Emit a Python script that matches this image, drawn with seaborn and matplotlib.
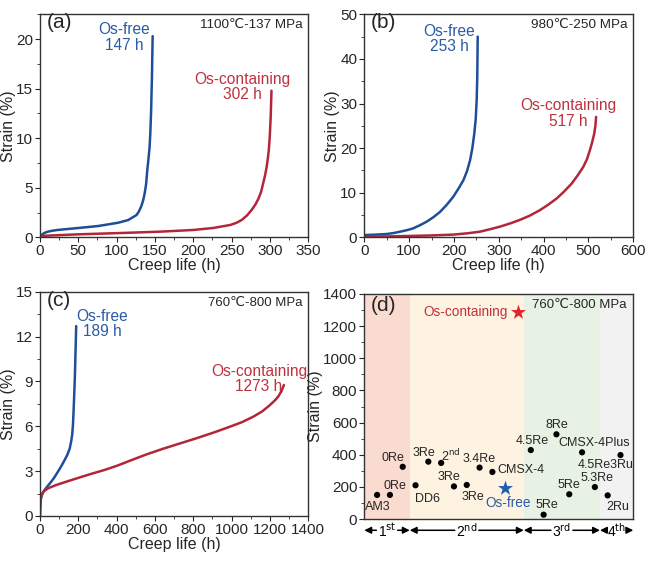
#%% import tools and libraries
import pandas as pd
import seaborn as sb
import matplotlib
matplotlib.use('Agg')
import matplotlib.pyplot as plt
from matplotlib.ticker import MultipleLocator

#%% colours
blue = '#1f4e99'
red = '#b3263a'
blue_txt = '#2b5ba6'
red_txt = '#c0313f'

#%% creep curves (time in h, strain in %)
# (a) 1100C-137 MPa
a_free_t = [0, 1.5, 3, 6, 10, 15, 23, 50, 76, 102, 115, 126, 129, 132, 134.5, 136.5, 138.5, 140,
            141.5, 143, 144, 145, 146, 147]
a_free_s = [0, 0.15, 0.3, 0.45, 0.56, 0.65, 0.74, 0.94, 1.14, 1.47, 1.74, 2.25, 2.6, 3.1, 3.7, 4.4,
            5.4, 6.8, 7.9, 9.1, 10.6, 12.8, 16, 20.3]
a_os_t = [0, 5, 50, 100, 157, 200, 226, 248, 256, 263, 270, 276, 281, 285, 288.5, 291, 293.5,
          295.7, 297.3, 298.5, 299.8, 301, 302]
a_os_s = [0, 0.15, 0.3, 0.42, 0.57, 0.74, 0.94, 1.24, 1.45, 1.74, 2.2, 2.75, 3.3, 3.9, 4.6, 5.4,
          6.2, 7.1, 8.0, 8.8, 10.2, 12.2, 14.8]

# (b) 980C-250 MPa
b_free_t = [0, 25, 50, 65, 80, 95, 109, 124, 139, 154, 169, 184, 198.5, 210, 221, 229, 236, 241,
            245.4, 248.5, 250.7, 252, 253]
b_free_s = [0.5, 0.6, 0.74, 0.95, 1.26, 1.6, 2.0, 2.7, 3.5, 4.5, 5.7, 7.3, 9.1, 10.9, 12.8, 14.8,
            17.3, 20, 23.3, 26.5, 30.8, 36, 45]
b_os_t = [0, 50, 100, 150, 198, 230, 258, 280, 303, 325, 347, 370, 392, 410, 429, 446, 463, 476,
          488.5, 497, 503.4, 508.5, 513, 515.5, 517]
b_os_s = [0.15, 0.2, 0.3, 0.42, 0.6, 0.9, 1.26, 1.8, 2.4, 3.1, 3.9, 4.9, 6.1, 7.3, 8.7, 10.3, 12.1,
          13.9, 15.8, 17.6, 19.6, 21.4, 23.3, 25, 27]

# (c) 760C-800 MPa
c_free_t = [0, 1, 2, 4, 7, 15, 24, 40, 59, 76, 94, 112, 129, 143, 155, 163, 168.7, 172.5, 175.6,
            179, 182, 184.5, 186.8, 189]
c_free_s = [0, 0.5, 0.8, 1.1, 1.3, 1.55, 1.74, 2.0, 2.3, 2.6, 2.97, 3.35, 3.75, 4.1, 4.5, 5.0, 5.5,
            6.2, 7.1, 8.2, 9.3, 10.5, 11.6, 12.7]
c_os_t = [0, 1, 2, 4, 7, 12, 20, 42, 80, 120, 163, 250, 337, 400, 470, 556, 643, 730, 817, 904,
          991, 1055, 1113, 1160, 1200, 1225, 1243, 1260, 1273]
c_os_s = [0, 0.5, 0.8, 1.1, 1.3, 1.5, 1.65, 1.85, 2.05, 2.22, 2.4, 2.75, 3.08, 3.35, 3.7, 4.12,
          4.5, 4.85, 5.2, 5.57, 5.97, 6.28, 6.64, 7.0, 7.42, 7.72, 7.98, 8.35, 8.76]

#%% (d) rupture life of SX superalloys at 760C-800 MPa
alloys = ['AM3', '0Re', '0Re', 'DD6', '3Re', '2$^{\\mathrm{nd}}$', '3Re', '3Re', '3.4Re', 'CMSX-4',
          '4.5Re', '5Re', '8Re', '5Re', 'CMSX-4Plus', '5.3Re', '2Ru', '4.5Re3Ru']
alloy_pos = [1, 2, 3, 4, 5, 6, 7, 8, 9, 10, 13, 14, 15, 16, 17, 18, 19, 20]
alloy_life = [150, 150, 325, 210, 357, 349, 203, 212, 320, 293, 429, 27, 527, 154, 415, 199, 147, 398]
# label offsets in points
lab_off = [(0.7, -8.4), (3.4, 6.7), (-6.7, 6), (8.4, -10), (-3.4, 6), (7.2, 4.7), (-3.4, 7), (4.6, -8.4),
           (0, 6.2), (3.6, 1.4), (1.2, 6.2), (2.6, 6.7), (0, 6.5), (0, 6.5), (8.6, 6.5), (1.4, 6.5),
           (7.2, -8.1), (-11, -7.2)]
os_free_pos, os_free_life = 11, 191
os_cont_pos, os_cont_life = 12, 1286

gen_edges = [0, 3.55, 12.45, 18.4, 21]
gen_labels = ['1$^{\\mathrm{st}}$', '2$^{\\mathrm{nd}}$', '3$^{\\mathrm{rd}}$', '4$^{\\mathrm{th}}$']
gen_colors = ['#fadbcf', '#fef3e1', '#e7f2e5', '#f2f2f2']

#%% style
sb.set_style('ticks')
plt.rcParams['font.family'] = ['Liberation Sans', 'DejaVu Sans']
plt.rcParams['axes.linewidth'] = 1.0
plt.rcParams['axes.edgecolor'] = '#333333'
plt.rcParams['xtick.major.size'] = 3.5
plt.rcParams['ytick.major.size'] = 3.5
plt.rcParams['xtick.minor.size'] = 2
plt.rcParams['ytick.minor.size'] = 2
plt.rcParams['xtick.major.pad'] = 1.5
plt.rcParams['ytick.major.pad'] = 1.5
plt.rcParams['xtick.labelsize'] = 11
plt.rcParams['ytick.labelsize'] = 11

fig = plt.figure(figsize=(6.49, 5.63), dpi=100)
ax_a = fig.add_axes([0.0616, 0.5785, 0.4134, 0.396])
ax_b = fig.add_axes([0.5613, 0.5785, 0.4145, 0.396])
ax_c = fig.add_axes([0.0616, 0.0835, 0.4134, 0.3984])
ax_d = fig.add_axes([0.5613, 0.0781, 0.4145, 0.3997])


def creep_panel(ax, ft, fs, ot, os_, xlim, ylim, xmaj, ymaj, tag, cond, cond_fs,
                free_txt, free_xy, os_txt, os_xy):
    sb.lineplot(x=ft, y=fs, ax=ax, color=blue, lw=1.8, estimator=None, sort=False)
    sb.lineplot(x=ot, y=os_, ax=ax, color=red, lw=1.8, estimator=None, sort=False)
    ax.set_xlim(*xlim)
    ax.set_ylim(*ylim)
    ax.xaxis.set_major_locator(MultipleLocator(xmaj))
    ax.xaxis.set_minor_locator(MultipleLocator(xmaj / 2))
    ax.yaxis.set_major_locator(MultipleLocator(ymaj))
    ax.yaxis.set_minor_locator(MultipleLocator(ymaj / 2))
    ax.set_xlabel('Creep life (h)', fontsize=11.5, labelpad=0)
    ax.set_ylabel('Strain (%)', fontsize=11.5, labelpad=0)
    ax.text(0.025, 0.962, tag, transform=ax.transAxes, fontsize=15, va='center', ha='left')
    ax.text(0.98, 0.952, cond, transform=ax.transAxes, fontsize=cond_fs, va='center', ha='right')
    ax.text(free_xy[0], free_xy[1], free_txt, color=blue_txt, fontsize=11.2, ha='center',
            va='center', linespacing=1.05)
    ax.text(os_xy[0], os_xy[1], os_txt, color=red_txt, fontsize=11.2, ha='center',
            va='center', linespacing=1.05)


creep_panel(ax_a, a_free_t, a_free_s, a_os_t, a_os_s, (0, 350), (0, 22.5), 50, 5, '(a)',
            '1100\u2103-137 MPa', 9.7, 'Os-free\n147 h', (110, 20.15), 'Os-containing\n302 h', (264, 15.15))
creep_panel(ax_b, b_free_t, b_free_s, b_os_t, b_os_s, (0, 600), (0, 50), 100, 10, '(b)',
            '980\u2103-250 MPa', 9.7, 'Os-free\n253 h', (190, 44.5), 'Os-containing\n517 h', (455, 27.8))
creep_panel(ax_c, c_free_t, c_free_s, c_os_t, c_os_s, (0, 1400), (0, 15), 200, 3, '(c)',
            '760\u2103-800 MPa', 9.5, 'Os-free\n189 h', (323, 12.85), 'Os-containing\n1273 h', (1142, 9.15))

#%% panel (d)
ax = ax_d
for i in range(len(gen_colors)):
    ax.axvspan(gen_edges[i], gen_edges[i + 1], color=gen_colors[i], lw=0, zorder=0)
df_d = pd.DataFrame({'pos': alloy_pos, 'life': alloy_life})
sb.scatterplot(data=df_d, x='pos', y='life', ax=ax, color='black', s=20, edgecolor='none', zorder=3)
for name, x, y, off in zip(alloys, alloy_pos, alloy_life, lab_off):
    ha = 'left' if name == 'CMSX-4' else 'center'
    ax.annotate(name, (x, y), xytext=off, textcoords='offset points', ha=ha, va='center', fontsize=9)
ax.scatter([os_free_pos], [os_free_life], marker='*', s=130, color='#1f5fb3', zorder=4, lw=0)
ax.scatter([os_cont_pos], [os_cont_life], marker='*', s=130, color='#e0252c', zorder=4, lw=0)
ax.annotate('Os-free', (os_free_pos, os_free_life), xytext=(2.4, -10.3), textcoords='offset points',
            ha='center', va='center', color=blue_txt, fontsize=9.8)
ax.annotate('Os-containing', (os_cont_pos, os_cont_life), xytext=(-7.7, 0.5), textcoords='offset points',
            ha='right', va='center', color=red_txt, fontsize=9.8)
ax.set_xlim(0, 21)
ax.set_ylim(0, 1400)
ax.yaxis.set_major_locator(MultipleLocator(200))
ax.yaxis.set_minor_locator(MultipleLocator(100))
ax.set_xticks([])
ax.set_xlabel('')
ax.set_ylabel('Strain (%)', fontsize=11.5, labelpad=0)
ax.text(0.025, 0.951, '(d)', transform=ax.transAxes, fontsize=15, va='center', ha='left')
ax.text(0.975, 0.951, '760\u2103-800 MPa', transform=ax.transAxes, fontsize=9.5, va='center', ha='right')

# generation arrows below the axis: one arrow from the label to each band edge
xy_tr = ('data', 'axes fraction')
for i in range(len(gen_labels)):
    mid = (gen_edges[i] + gen_edges[i + 1]) / 2
    for k, edge in enumerate([gen_edges[i], gen_edges[i + 1]]):
        ax.annotate(gen_labels[i], xy=(edge, -0.05), xytext=(mid, -0.05),
                    xycoords=xy_tr, textcoords=xy_tr, ha='center', va='center', fontsize=10,
                    color='black' if k == 0 else 'none', annotation_clip=False,
                    bbox=dict(boxstyle='square,pad=0.1', fc='none', ec='none'),
                    arrowprops=dict(arrowstyle='-|>', color='black', lw=1.1,
                                    mutation_scale=10, shrinkA=0, shrinkB=0))

for a in [ax_a, ax_b, ax_c, ax_d]:
    for s in a.spines.values():
        s.set_visible(True)

plt.savefig('out.png', dpi=100)
